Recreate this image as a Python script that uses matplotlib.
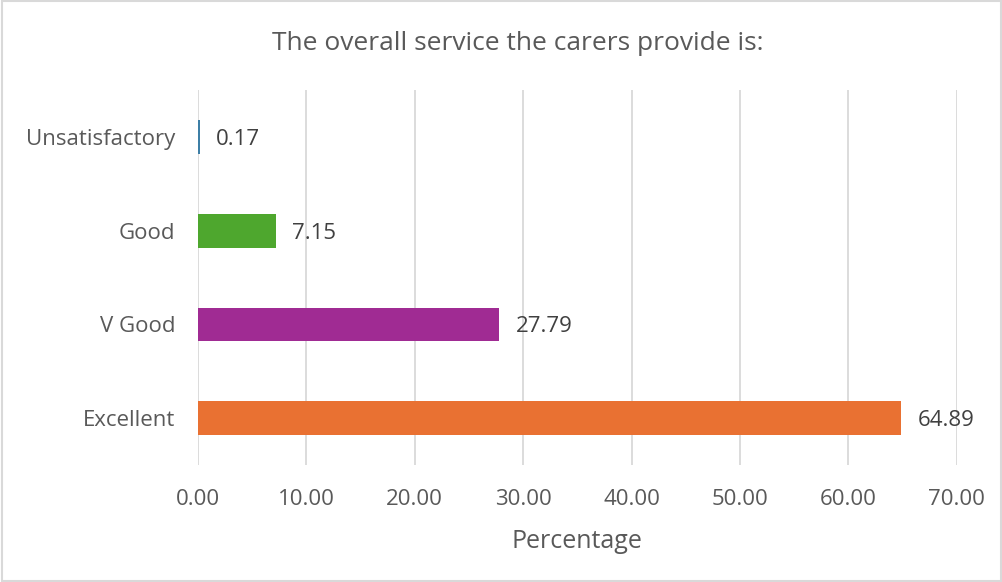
import matplotlib.pyplot as plt
from matplotlib.patches import Rectangle

# data, bottom to top as drawn
categories = ['Excellent', 'V Good', 'Good', 'Unsatisfactory']
percentages = [64.89, 27.79, 7.15, 0.17]
bar_colors = ['#E97132', '#A02B93', '#4EA72E', '#3E7FA6']
x_ticks = [0, 10, 20, 30, 40, 50, 60, 70]

text_color = '#595959'
grid_color = '#D9D9D9'

plt.rcParams['font.family'] = ['Open Sans', 'DejaVu Sans']

fig = plt.figure(figsize=(10.03, 5.82), dpi=100)
ax = fig.add_axes([0.1974, 0.201, 0.7566, 0.644])

y = range(len(categories))
bars = ax.barh(y, percentages, height=0.36, color=bar_colors, zorder=3)

# value labels to the right of each bar
for val, patch in zip(percentages, bars.patches):
    ax.text(patch.get_width() + 1.5, patch.get_y() + patch.get_height() / 2,
            f"{val:.2f}", va='center_baseline', ha='left', fontsize=16, color='#404040')

ax.set_xlim(0, 70)
ax.set_ylim(-0.5, 3.5)
ax.set_xticks(x_ticks, [f"{t:.2f}" for t in x_ticks])
ax.set_yticks(list(y), categories)
ax.tick_params(axis='both', length=0, labelsize=16, labelcolor=text_color)
ax.tick_params(axis='x', pad=17)
ax.tick_params(axis='y', pad=16.5)

ax.grid(axis='x', color=grid_color, linewidth=1.3, zorder=0)
for s in ax.spines.values():
    s.set_visible(False)

ax.set_xlabel('Percentage', fontsize=18, color=text_color, labelpad=14)
fig.text(0.516, 0.926, 'The overall service the carers provide is:',
         ha='center', va='center', fontsize=19, color=text_color)

# light border around the whole chart
fig.patches.append(Rectangle((0.002, 0.002), 0.996, 0.996, transform=fig.transFigure,
                             fill=False, edgecolor=grid_color, linewidth=1.5))

fig.savefig('out.png', dpi=100)
